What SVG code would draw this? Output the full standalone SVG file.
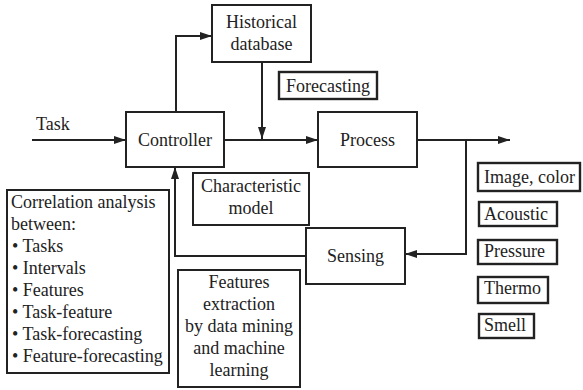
<svg xmlns="http://www.w3.org/2000/svg" width="583" height="390" viewBox="0 0 583 390" font-family="Liberation Serif, Times New Roman, serif" font-size="18">
<style>
text{fill:#222}
.c{text-anchor:middle}
.box{fill:#fff;stroke:#222;stroke-width:2}
.sbox{fill:#fff;stroke:#222;stroke-width:2.4}
.ln{fill:none;stroke:#222;stroke-width:2}
</style>
<defs>
<marker id="ah" viewBox="0 0 12 8" refX="12" refY="4" markerWidth="12" markerHeight="8" markerUnits="userSpaceOnUse" orient="auto">
<path d="M0,0 L12,4 L0,8 Z" fill="#222"/>
</marker>
</defs>
<rect width="583" height="390" fill="#fff"/>
<g id="connectors">
<line class="ln" x1="32" y1="140" x2="126" y2="140" marker-end="url(#ah)"/>
<polyline class="ln" points="176,112 176,36 212,36" marker-end="url(#ah)"/>
<line class="ln" x1="262" y1="62" x2="262" y2="139" marker-end="url(#ah)"/>
<line class="ln" x1="224" y1="140" x2="318" y2="140" marker-end="url(#ah)"/>
<line class="ln" x1="417" y1="140" x2="510" y2="140" marker-end="url(#ah)"/>
<polyline class="ln" points="466,140 466,254 405,254" marker-end="url(#ah)"/>
<polyline class="ln" points="306,256 175,256 175,167" marker-end="url(#ah)"/>
</g>
<g id="historical"><rect class="box" x="212" y="5" width="99" height="57"/><text class="c" x="261.5" y="28">Historical</text><text class="c" x="261.5" y="50">database</text></g>
<g id="forecasting"><rect class="sbox" x="279" y="72" width="98" height="27"/><text class="c" x="328" y="92">Forecasting</text></g>
<g id="task"><text x="36" y="130">Task</text></g>
<g id="controller"><rect class="box" x="126" y="112" width="98" height="55"/><text class="c" x="175" y="146">Controller</text></g>
<g id="process"><rect class="box" x="318" y="112" width="99" height="55"/><text class="c" x="367.5" y="146">Process</text></g>
<g id="characteristic"><rect class="box" x="193" y="173" width="116" height="52"/><text class="c" x="251" y="192">Characteristic</text><text class="c" x="251" y="214">model</text></g>
<g id="sensing"><rect class="box" x="306" y="228" width="99" height="56"/><text class="c" x="355.5" y="262">Sensing</text></g>
<g id="correlation"><rect class="box" x="7" y="190" width="162" height="183"/>
<text x="11" y="208">Correlation analysis</text>
<text x="11" y="230">between:</text>
<text x="12" y="252">• Tasks</text>
<text x="12" y="274">• Intervals</text>
<text x="12" y="296">• Features</text>
<text x="12" y="318">• Task-feature</text>
<text x="12" y="340">• Task-forecasting</text>
<text x="12" y="362">• Feature-forecasting</text>
</g>
<g id="features"><rect class="box" x="178" y="270" width="122" height="117"/>
<text class="c" x="239" y="288">Features</text>
<text class="c" x="239" y="310">extraction</text>
<text class="c" x="239" y="332">by data mining</text>
<text class="c" x="239" y="354">and machine</text>
<text class="c" x="239" y="376">learning</text>
</g>
<g id="image"><rect class="sbox" x="478" y="163" width="102" height="28"/><text x="484" y="183">Image, color</text></g>
<g id="acoustic"><rect class="sbox" x="479" y="202" width="78" height="24"/><text x="484" y="220">Acoustic</text></g>
<g id="pressure"><rect class="sbox" x="478" y="240" width="79" height="24"/><text x="484" y="257">Pressure</text></g>
<g id="thermo"><rect class="sbox" x="478" y="277" width="70" height="26"/><text x="484" y="294">Thermo</text></g>
<g id="smell"><rect class="sbox" x="479" y="314" width="55" height="24"/><text x="484" y="331">Smell</text></g>
</svg>
